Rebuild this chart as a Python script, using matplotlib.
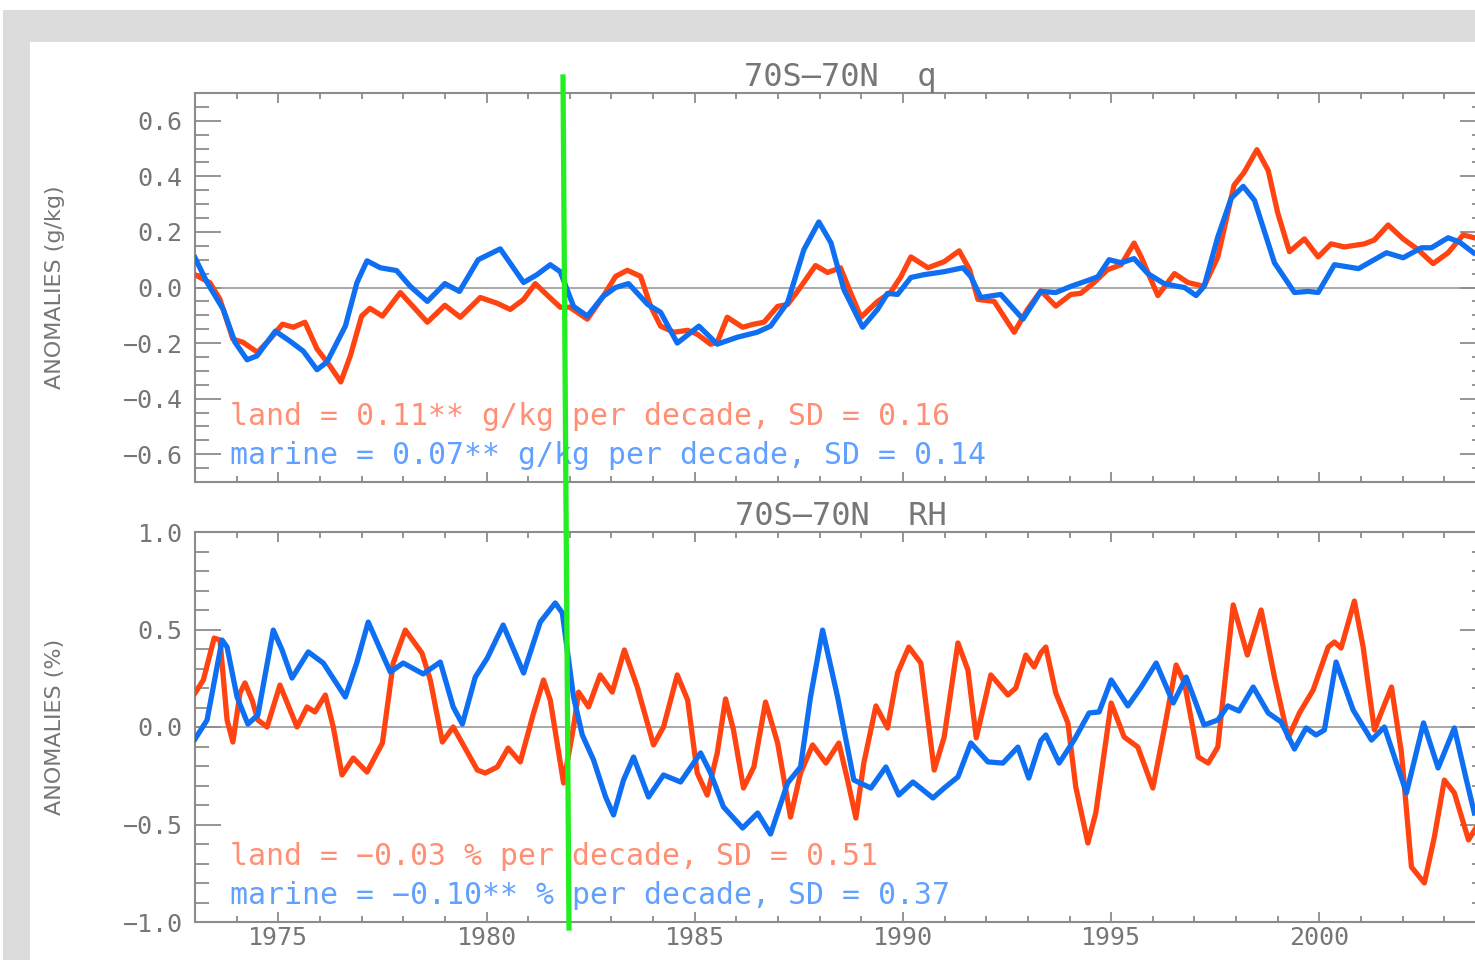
import numpy as np
import matplotlib
matplotlib.use("Agg")
import matplotlib.pyplot as plt
from matplotlib.patches import Rectangle
from matplotlib.lines import Line2D
from matplotlib.ticker import MultipleLocator, FuncFormatter

# ---- specific humidity anomalies (g/kg), 70S-70N
q_land_yr = [1973.0, 1973.36, 1973.6, 1973.91, 1974.15, 1974.5, 1974.8, 1975.1, 1975.36, 1975.64,
             1975.93, 1976.24, 1976.5, 1976.73, 1977.0, 1977.2, 1977.5, 1977.93, 1978.58, 1979.0,
             1979.37, 1979.85, 1980.26, 1980.57, 1980.89, 1981.17, 1981.49, 1981.77, 1982.0, 1982.42,
             1982.8, 1983.1, 1983.38, 1983.7, 1983.94, 1984.18, 1984.5, 1984.83, 1985.06, 1985.38,
             1985.54, 1985.78, 1986.15, 1986.42, 1986.66, 1986.99, 1987.23, 1987.5, 1987.9, 1988.19,
             1988.5, 1988.74, 1988.99, 1989.39, 1989.7, 1989.95, 1990.19, 1990.6, 1990.99, 1991.35,
             1991.6, 1991.8, 1992.19, 1992.67, 1992.99, 1993.31, 1993.67, 1994.03, 1994.27, 1994.59,
             1994.91, 1995.24, 1995.55, 1995.72, 1996.12, 1996.52, 1996.84, 1997.23, 1997.56, 1997.95,
             1998.19, 1998.5, 1998.77, 1999.0, 1999.28, 1999.64, 1999.97, 2000.28, 2000.6, 2001.08,
             2001.32, 2001.65, 2002.01, 2002.37, 2002.73, 2003.09, 2003.45, 2003.72]
q_land = [0.046, 0.017, -0.043, -0.186, -0.197, -0.233, -0.186, -0.132, -0.143, -0.125,
          -0.221, -0.282, -0.34, -0.246, -0.103, -0.075, -0.103, -0.018, -0.125, -0.064,
          -0.107, -0.036, -0.057, -0.079, -0.043, 0.014, -0.032, -0.071, -0.071, -0.114,
          -0.032, 0.04, 0.062, 0.04, -0.067, -0.139, -0.161, -0.154, -0.168, -0.204,
          -0.197, -0.107, -0.143, -0.132, -0.125, -0.068, -0.061, -0.007, 0.079, 0.054,
          0.071, -0.018, -0.107, -0.05, -0.018, 0.039, 0.11, 0.071, 0.093, 0.132,
          0.064, -0.043, -0.05, -0.161, -0.079, -0.012, -0.067, -0.025, -0.021, 0.018,
          0.064, 0.082, 0.16, 0.11, -0.029, 0.05, 0.018, 0.004, 0.11, 0.368,
          0.414, 0.496, 0.421, 0.268, 0.129, 0.175, 0.11, 0.157, 0.146, 0.157,
          0.171, 0.225, 0.175, 0.136, 0.086, 0.125, 0.189, 0.179]

q_marine_yr = [1973.0, 1973.29, 1973.68, 1973.96, 1974.25, 1974.49, 1974.93, 1975.28, 1975.6, 1975.93,
               1976.17, 1976.61, 1976.89, 1977.13, 1977.45, 1977.84, 1978.17, 1978.58, 1979.0, 1979.35,
               1979.8, 1980.33, 1980.89, 1981.21, 1981.53, 1981.77, 1982.09, 1982.42, 1982.8, 1983.1,
               1983.41, 1983.87, 1984.18, 1984.58, 1985.1, 1985.54, 1986.02, 1986.5, 1986.82, 1987.23,
               1987.62, 1987.98, 1988.27, 1988.58, 1989.03, 1989.39, 1989.63, 1989.87, 1990.19, 1990.5,
               1990.99, 1991.44, 1991.63, 1991.87, 1992.35, 1992.88, 1993.31, 1993.67, 1994.03, 1994.51,
               1994.68, 1994.95, 1995.24, 1995.55, 1995.88, 1996.27, 1996.6, 1996.76, 1997.04, 1997.23,
               1997.56, 1997.88, 1998.17, 1998.44, 1998.92, 1999.4, 1999.73, 1999.97, 2000.36, 2000.94,
               2001.61, 2002.01, 2002.45, 2002.69, 2003.09, 2003.36, 2003.7]
q_marine = [0.107, 0.018, -0.079, -0.197, -0.26, -0.246, -0.157, -0.193, -0.229, -0.296,
            -0.268, -0.139, 0.018, 0.096, 0.071, 0.061, 0.004, -0.05, 0.014, -0.014,
            0.1, 0.139, 0.018, 0.046, 0.082, 0.057, -0.068, -0.103, -0.032, 0.0,
            0.014, -0.061, -0.089, -0.2, -0.139, -0.204, -0.179, -0.161, -0.139, -0.054,
            0.136, 0.236, 0.161, -0.007, -0.143, -0.079, -0.021, -0.025, 0.036, 0.046,
            0.057, 0.071, 0.039, -0.036, -0.025, -0.114, -0.014, -0.018, 0.004, 0.029,
            0.039, 0.1, 0.089, 0.104, 0.05, 0.014, 0.004, 0.0, -0.029, 0.004,
            0.182, 0.321, 0.364, 0.314, 0.089, -0.018, -0.014, -0.018, 0.082, 0.068,
            0.125, 0.107, 0.143, 0.143, 0.179, 0.164, 0.125]

# ---- relative humidity anomalies (%), 70S-70N
rh_land_yr = [1973.0, 1973.2, 1973.46, 1973.6, 1973.77, 1973.91, 1974.08, 1974.2, 1974.37, 1974.51,
              1974.73, 1975.04, 1975.45, 1975.69, 1975.88, 1976.13, 1976.32, 1976.53, 1976.8, 1977.13,
              1977.5, 1977.76, 1978.05, 1978.45, 1978.65, 1978.94, 1979.2, 1979.78, 1979.97, 1980.26,
              1980.52, 1980.81, 1981.13, 1981.37, 1981.53, 1981.85, 1982.09, 1982.21, 1982.45, 1982.73,
              1983.02, 1983.31, 1983.62, 1984.01, 1984.25, 1984.58, 1984.83, 1985.06, 1985.3, 1985.54,
              1985.74, 1985.93, 1986.17, 1986.42, 1986.7, 1986.99, 1987.3, 1987.54, 1987.83, 1988.15,
              1988.46, 1988.67, 1988.87, 1989.06, 1989.35, 1989.63, 1989.87, 1990.14, 1990.43, 1990.75,
              1990.99, 1991.32, 1991.56, 1991.76, 1992.11, 1992.52, 1992.71, 1992.95, 1993.15, 1993.31,
              1993.43, 1993.67, 1993.96, 1994.15, 1994.44, 1994.63, 1995.0, 1995.31, 1995.64, 1996.0,
              1996.27, 1996.56, 1996.76, 1997.09, 1997.33, 1997.56, 1997.93, 1998.27, 1998.6, 1998.92,
              1999.25, 1999.52, 1999.85, 2000.21, 2000.36, 2000.52, 2000.84, 2001.05, 2001.32, 2001.73,
              2001.97, 2002.21, 2002.52, 2002.76, 2003.0, 2003.24, 2003.58, 2003.77]
rh_land = [0.174, 0.241, 0.456, 0.446, 0.036, -0.077, 0.174, 0.226, 0.138, 0.036,
           0.0, 0.215, 0.0, 0.103, 0.077, 0.164, 0.0, -0.246, -0.159, -0.231,
           -0.082, 0.328, 0.497, 0.379, 0.241, -0.077, 0.0, -0.221, -0.236, -0.205,
           -0.108, -0.179, 0.072, 0.241, 0.138, -0.287, 0.0, 0.179, 0.103, 0.267,
           0.179, 0.395, 0.205, -0.092, 0.0, 0.267, 0.138, -0.236, -0.349, -0.133,
           0.144, -0.015, -0.313, -0.205, 0.128, -0.082, -0.462, -0.236, -0.092, -0.185,
           -0.082, -0.272, -0.467, -0.185, 0.108, -0.005, 0.277, 0.41, 0.328, -0.221,
           -0.051, 0.431, 0.292, -0.056, 0.267, 0.164, 0.2, 0.369, 0.308, 0.38,
           0.41, 0.174, 0.021, -0.308, -0.595, -0.441, 0.123, -0.051, -0.103, -0.313,
           -0.015, 0.318, 0.226, -0.154, -0.185, -0.103, 0.626, 0.369, 0.6, 0.256,
           -0.056, 0.072, 0.19, 0.41, 0.436, 0.405, 0.646, 0.41, -0.015, 0.205,
           -0.133, -0.718, -0.8, -0.564, -0.272, -0.338, -0.579, -0.513]

rh_marine_yr = [1973.0, 1973.29, 1973.65, 1973.77, 1974.01, 1974.27, 1974.51, 1974.88, 1975.09, 1975.33,
                1975.72, 1976.08, 1976.61, 1976.89, 1977.16, 1977.38, 1977.69, 1978.0, 1978.48, 1978.89,
                1979.2, 1979.42, 1979.73, 1980.02, 1980.4, 1980.89, 1981.29, 1981.65, 1981.82, 1982.09,
                1982.3, 1982.57, 1982.86, 1983.05, 1983.29, 1983.53, 1983.89, 1984.25, 1984.66, 1985.14,
                1985.38, 1985.69, 1986.15, 1986.51, 1986.82, 1987.23, 1987.54, 1987.78, 1988.07, 1988.43,
                1988.82, 1989.23, 1989.59, 1989.9, 1990.24, 1990.72, 1990.99, 1991.32, 1991.63, 1992.04,
                1992.4, 1992.76, 1993.02, 1993.31, 1993.43, 1993.75, 1994.11, 1994.47, 1994.71, 1995.0,
                1995.4, 1995.72, 1996.08, 1996.49, 1996.8, 1997.23, 1997.56, 1997.8, 1998.07, 1998.41,
                1998.77, 1999.08, 1999.4, 1999.68, 1999.92, 2000.12, 2000.4, 2000.81, 2001.25, 2001.56,
                2002.09, 2002.5, 2002.85, 2003.24, 2003.53, 2003.72]
rh_marine = [-0.062, 0.036, 0.446, 0.41, 0.154, 0.015, 0.062, 0.497, 0.395, 0.251,
             0.385, 0.328, 0.154, 0.333, 0.538, 0.431, 0.282, 0.328, 0.272, 0.333,
             0.103, 0.015, 0.256, 0.354, 0.523, 0.277, 0.538, 0.636, 0.585, 0.154,
             -0.041, -0.169, -0.359, -0.451, -0.272, -0.154, -0.359, -0.246, -0.282, -0.133,
             -0.236, -0.41, -0.518, -0.441, -0.549, -0.287, -0.205, 0.154, 0.497, 0.154,
             -0.272, -0.313, -0.205, -0.349, -0.282, -0.364, -0.313, -0.256, -0.082, -0.179,
             -0.185, -0.103, -0.262, -0.07, -0.041, -0.185, -0.067, 0.072, 0.077, 0.241,
             0.108, 0.205, 0.328, 0.123, 0.256, 0.01, 0.036, 0.108, 0.082, 0.205,
             0.072, 0.026, -0.113, -0.005, -0.041, -0.015, 0.333, 0.087, -0.067, 0.0,
             -0.338, 0.021, -0.21, -0.005, -0.272, -0.441]

q_text = ["land = 0.11** g/kg per decade, SD = 0.16",
          "marine = 0.07** g/kg per decade, SD = 0.14"]
rh_text = ["land = \u22120.03 % per decade, SD = 0.51",
           "marine = \u22120.10** % per decade, SD = 0.37"]

LAND = "#ff4412"
MARINE = "#0f6ff2"
LAND_TXT = "#ff8f74"
MARINE_TXT = "#62a0ff"
GREY = "#767676"
AXGREY = "#8c8c8c"
MONO = "DejaVu Sans Mono"

fig = plt.figure(figsize=(14.75, 9.6), dpi=100, facecolor="white")

# grey frame with a white sheet on top of it
fig.add_artist(Rectangle((3 / 1475, 0), 1, 950 / 960, transform=fig.transFigure,
                         facecolor="#dcdcdc", edgecolor="none", zorder=-20))
fig.add_artist(Rectangle((30 / 1475, 0), 1, 918 / 960, transform=fig.transFigure,
                         facecolor="white", edgecolor="none", zorder=-19))

ax1 = fig.add_axes([195 / 1475, 1 - 482 / 960, 1291 / 1475, 389 / 960])
ax2 = fig.add_axes([195 / 1475, 1 - 922 / 960, 1291 / 1475, 390 / 960])


def minus(v, pos):
    return ("%.1f" % v).replace("-", "\u2212")


def style(ax, ylim, major, minor, ylabel, title, labels_x):
    ax.set_xlim(1973, 2004)
    ax.set_ylim(*ylim)
    ax.axhline(0, color="#9a9a9a", lw=1.2, zorder=1)
    for s in ax.spines.values():
        s.set_color(AXGREY)
        s.set_linewidth(1.5)
    ax.xaxis.set_major_locator(MultipleLocator(5))
    ax.xaxis.set_minor_locator(MultipleLocator(1))
    ax.yaxis.set_major_locator(MultipleLocator(major))
    ax.yaxis.set_minor_locator(MultipleLocator(minor))
    ax.yaxis.set_major_formatter(FuncFormatter(minus))
    ax.tick_params(axis="both", which="both", direction="in", color=AXGREY, width=1.3,
                   top=True, right=True, labelcolor=GREY, labelsize=18)
    ax.tick_params(axis="y", which="major", length=19, pad=9)
    ax.tick_params(axis="y", which="minor", length=10)
    ax.tick_params(axis="x", which="major", length=7, pad=3)
    ax.tick_params(axis="x", which="minor", length=4)
    for lab in ax.get_xticklabels() + ax.get_yticklabels():
        lab.set_family(MONO)
    if not labels_x:
        ax.tick_params(axis="x", labelbottom=False)
    ax.set_ylabel(ylabel, color=GREY, fontsize=16)
    ax.yaxis.set_label_coords(-0.1007, 0.5)
    ax.set_title(title, color=GREY, fontsize=23, pad=5, family=MONO)


style(ax1, (-0.7, 0.7), 0.2, 0.05, "ANOMALIES (g/kg)", "70S\u201470N  q", False)
style(ax2, (-1.0, 1.0), 0.5, 0.1, "ANOMALIES (%)", "70S\u201470N  RH", True)

ax1.plot(q_land_yr, q_land, color=LAND, lw=3.8, solid_joinstyle="round", zorder=3)
ax1.plot(q_marine_yr, q_marine, color=MARINE, lw=3.8, solid_joinstyle="round", zorder=4)
ax2.plot(rh_land_yr, rh_land, color=LAND, lw=3.8, solid_joinstyle="round", zorder=3)
ax2.plot(rh_marine_yr, rh_marine, color=MARINE, lw=3.8, solid_joinstyle="round", zorder=4)

ax1.text(1973.84, -0.464, q_text[0], color=LAND_TXT, fontsize=21.5, va="center", family=MONO)
ax1.text(1973.84, -0.604, q_text[1], color=MARINE_TXT, fontsize=21.5, va="center", family=MONO)
ax2.text(1973.84, -0.662, rh_text[0], color=LAND_TXT, fontsize=21.5, va="center", family=MONO)
ax2.text(1973.84, -0.862, rh_text[1], color=MARINE_TXT, fontsize=21.5, va="center", family=MONO)

# green marker line drawn across both panels
fig.add_artist(Line2D([563 / 1475, 569 / 1475], [1 - 77 / 960, 1 - 928 / 960],
                      transform=fig.transFigure, color="#22ee22", lw=3.8, zorder=10))

fig.savefig("out.png", dpi=100, facecolor="white")
